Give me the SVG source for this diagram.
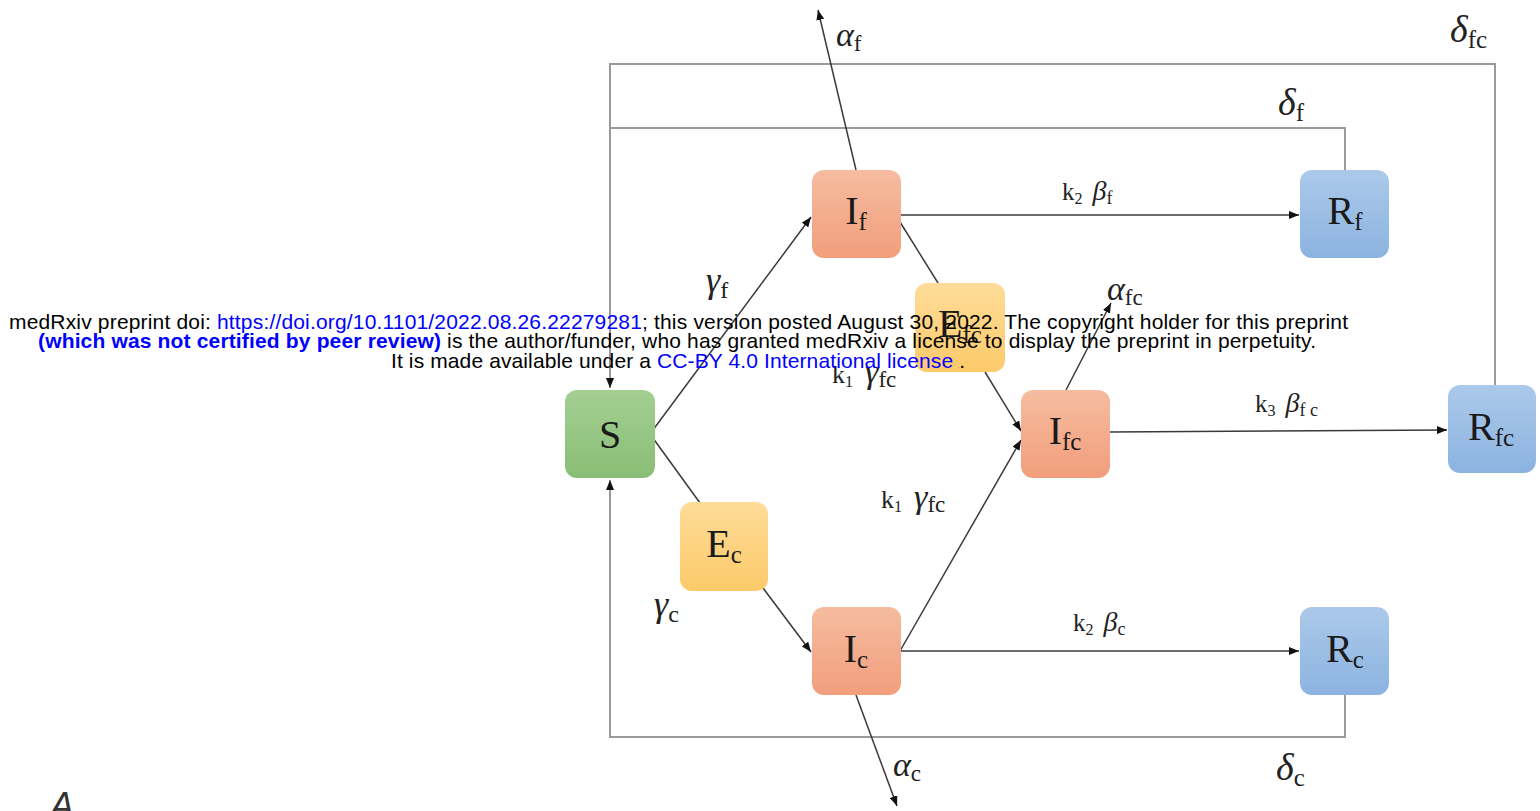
<svg xmlns="http://www.w3.org/2000/svg" width="1540" height="811" viewBox="0 0 1540 811">
<defs>
<style>
.fb{fill:none;stroke:#9a9a9a;stroke-width:2}
.ar{fill:none;stroke:#3a3a3a;stroke-width:1.5}
.lbl{font-family:"Liberation Serif","Times New Roman",serif;fill:#222}
.nl{font-family:"Liberation Serif","Times New Roman",serif;fill:#1a1a1a;font-size:40px}
.gk{font-style:italic}
.ban{font-family:"Liberation Sans",Arial,sans-serif;font-size:21px;fill:#000}
.bl{fill:#0000ff}
</style>
<marker id="ah" viewBox="0 0 10 8" refX="10" refY="4" markerWidth="10" markerHeight="8" markerUnits="userSpaceOnUse" orient="auto">
<path d="M0,0 L10,4 L0,8 z" fill="#111"/>
</marker>
<linearGradient id="gG" x1="0" y1="0" x2="0" y2="1"><stop offset="0" stop-color="#a3cf92"/><stop offset="1" stop-color="#89bd75"/></linearGradient>
<linearGradient id="gO" x1="0" y1="0" x2="0" y2="1"><stop offset="0" stop-color="#f6bca0"/><stop offset="1" stop-color="#f19e7c"/></linearGradient>
<linearGradient id="gY" x1="0" y1="0" x2="0" y2="1"><stop offset="0" stop-color="#fedc98"/><stop offset="1" stop-color="#fcca6a"/></linearGradient>
<linearGradient id="gB" x1="0" y1="0" x2="0" y2="1"><stop offset="0" stop-color="#abc9ea"/><stop offset="1" stop-color="#8cb3e0"/></linearGradient>
</defs>
<rect width="1540" height="811" fill="#fff"/>

<g id="connectors">
<path class="fb" d="M1495,385 V64 H610 V388" marker-end="url(#ah)"/>
<path class="fb" d="M1345,170 V128 H610"/>
<path class="fb" d="M1345,695 V737 H610 V480" marker-end="url(#ah)"/>
<path class="ar" d="M650,434 L811,217" marker-end="url(#ah)"/>
<path class="ar" d="M650,434 L700,503"/>
<path class="ar" d="M763,588 L811,652" marker-end="url(#ah)"/>
<path class="ar" d="M900,215 L1299,215" marker-end="url(#ah)"/>
<path class="ar" d="M900,222 L938,283"/>
<path class="ar" d="M985,372 L1021,431" marker-end="url(#ah)"/>
<path class="ar" d="M900,651 L1021,440" marker-end="url(#ah)"/>
<path class="ar" d="M900,651 L1299,651" marker-end="url(#ah)"/>
<path class="ar" d="M1110,432 L1447,430" marker-end="url(#ah)"/>
<path class="ar" d="M1066,390 L1111,303" marker-end="url(#ah)"/>
<path class="ar" d="M856,170 L818,10" marker-end="url(#ah)"/>
<path class="ar" d="M856,695 L897,806" marker-end="url(#ah)"/>
</g>

<g id="edge-labels">
<text class="lbl" x="836" y="46" font-size="34"><tspan class="gk">α</tspan><tspan font-size="23" dy="5">f</tspan></text>
<text class="lbl" x="1450" y="42" font-size="38"><tspan class="gk">δ</tspan><tspan font-size="25" dy="6">fc</tspan></text>
<text class="lbl" x="1278" y="115" font-size="38"><tspan class="gk">δ</tspan><tspan font-size="25" dy="6">f</tspan></text>
<text class="lbl" x="1062" y="200" font-size="25">k<tspan font-size="16" dy="4">2</tspan><tspan class="gk" dy="-4" dx="10" font-size="28">β</tspan><tspan font-size="18" dy="4">f</tspan></text>
<text class="lbl" x="706" y="292" font-size="36"><tspan class="gk">γ</tspan><tspan font-size="24" dy="6">f</tspan></text>
<text class="lbl" x="1107" y="300" font-size="34"><tspan class="gk">α</tspan><tspan font-size="23" dy="5">fc</tspan></text>
<text class="lbl" x="832" y="383" font-size="26">k<tspan font-size="16" dy="4">1</tspan><tspan class="gk" dy="-4" dx="12" font-size="34">γ</tspan><tspan font-size="23" dy="4">fc</tspan></text>
<text class="lbl" x="1255" y="412" font-size="25">k<tspan font-size="16" dy="4">3</tspan><tspan class="gk" dy="-4" dx="10" font-size="28">β</tspan><tspan font-size="18" dy="4">f c</tspan></text>
<text class="lbl" x="881" y="508" font-size="26">k<tspan font-size="16" dy="4">1</tspan><tspan class="gk" dy="-4" dx="12" font-size="34">γ</tspan><tspan font-size="23" dy="4">fc</tspan></text>
<text class="lbl" x="654" y="616" font-size="36"><tspan class="gk">γ</tspan><tspan font-size="24" dy="6">c</tspan></text>
<text class="lbl" x="1073" y="631" font-size="25">k<tspan font-size="16" dy="4">2</tspan><tspan class="gk" dy="-4" dx="10" font-size="28">β</tspan><tspan font-size="18" dy="4">c</tspan></text>
<text class="lbl" x="893" y="776" font-size="34"><tspan class="gk">α</tspan><tspan font-size="23" dy="5">c</tspan></text>
<text class="lbl" x="1276" y="780" font-size="38"><tspan class="gk">δ</tspan><tspan font-size="25" dy="6">c</tspan></text>
</g>

<g id="node-S"><rect x="565" y="390" width="90" height="88" rx="12" fill="url(#gG)"/><text class="nl" x="610" y="448" text-anchor="middle">S</text></g>
<g id="node-If"><rect x="812" y="170" width="89" height="88" rx="12" fill="url(#gO)"/><text class="nl" x="856" y="224" text-anchor="middle">I<tspan font-size="25" dy="6">f</tspan></text></g>
<g id="node-Efc"><rect x="915" y="283" width="90" height="89" rx="12" fill="url(#gY)"/><text class="nl" x="960" y="337" text-anchor="middle">E<tspan font-size="25" dy="6">fc</tspan></text></g>
<g id="node-Ifc"><rect x="1021" y="390" width="89" height="88" rx="12" fill="url(#gO)"/><text class="nl" x="1065" y="444" text-anchor="middle">I<tspan font-size="25" dy="6">fc</tspan></text></g>
<g id="node-Rf"><rect x="1300" y="170" width="89" height="88" rx="12" fill="url(#gB)"/><text class="nl" x="1345" y="224" text-anchor="middle">R<tspan font-size="25" dy="6">f</tspan></text></g>
<g id="node-Rfc"><rect x="1448" y="385" width="88" height="88" rx="12" fill="url(#gB)"/><text class="nl" x="1491" y="440" text-anchor="middle">R<tspan font-size="25" dy="6">fc</tspan></text></g>
<g id="node-Ec"><rect x="680" y="502" width="88" height="89" rx="12" fill="url(#gY)"/><text class="nl" x="724" y="557" text-anchor="middle">E<tspan font-size="25" dy="6">c</tspan></text></g>
<g id="node-Ic"><rect x="812" y="607" width="89" height="88" rx="12" fill="url(#gO)"/><text class="nl" x="856" y="662" text-anchor="middle">I<tspan font-size="25" dy="6">c</tspan></text></g>
<g id="node-Rc"><rect x="1300" y="607" width="89" height="88" rx="12" fill="url(#gB)"/><text class="nl" x="1345" y="662" text-anchor="middle">R<tspan font-size="25" dy="6">c</tspan></text></g>

<text x="50" y="818" font-family="Liberation Sans, Arial, sans-serif" font-size="36" font-style="italic" fill="#333">A</text>

<g id="banner">
<text class="ban" x="9" y="329" textLength="1339">medRxiv preprint doi: <tspan class="bl">https://doi.org/10.1101/2022.08.26.22279281</tspan>; this version posted August 30, 2022. The copyright holder for this preprint</text>
<text class="ban" x="38" y="348" textLength="1278"><tspan class="bl" font-weight="bold">(which was not certified by peer review)</tspan> is the author/funder, who has granted medRxiv a license to display the preprint in perpetuity.</text>
<text class="ban" x="391" y="368" textLength="574">It is made available under a <tspan class="bl">CC-BY 4.0 International license</tspan> .</text>
</g>
</svg>
